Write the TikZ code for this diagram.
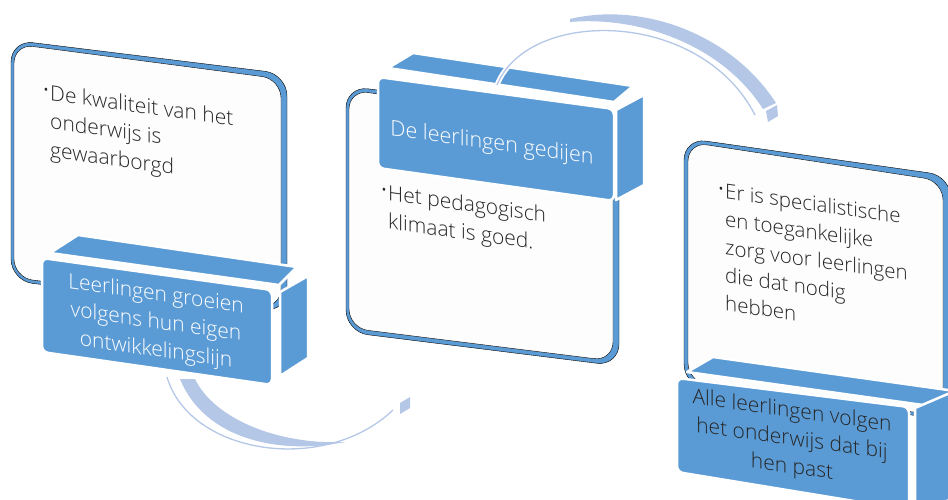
\documentclass[tikz,border=0pt]{standalone}
\usepackage{fontspec}
\setmainfont{Open Sans}[UprightFont={* Light}]
\usetikzlibrary{calc}
\definecolor{boxblue}{HTML}{5B9BD5}
\definecolor{arrowblue}{HTML}{B4C7E7}
\definecolor{cardtext}{HTML}{262626}
\definecolor{paper}{HTML}{FDFDFD}
\newcommand{\dotb}{\llap{\raisebox{0.3ex}{\fontsize{17}{17}\selectfont •}\hspace{1pt}}}
\tikzset{
  face/.style={fill=boxblue, draw=white, line width=2.5pt, line join=round},
  cardedge/.style={fill=boxblue, rounded corners=22pt},
  cardface/.style={fill=paper, rounded corners=19pt},
  cardtxt/.style={text=cardtext, font=\fontsize{21}{28.5}\selectfont, align=left, anchor=north west, yslant=-0.14, inner sep=0pt},
  boxtxt/.style={text=white, font=\fontsize{21}{28}\selectfont, align=center, yslant=-0.14, inner sep=0pt},
  band/.style={fill=arrowblue, draw=none},
  thinline/.style={draw=arrowblue, line width=1.3pt}
}
\begin{document}
\begin{tikzpicture}[x=1pt,y=-1pt]
			%%%%% START %%%%%
			\useasboundingbox (0,0) rectangle (948,499);
			
			% card 1
			\draw[cardedge] (11,40) -- (287,74) -- (287,312) -- (11,281) -- cycle;
			\draw[cardface] (14,44) -- (281,79) -- (281,308) -- (14,278) -- cycle;
			\node[cardtxt] (kwaliteit) at (50,84) {\dotb De kwaliteit van het\\onderwijs is\\gewaarborgd};
			
			% arrow 1
			\draw[thinline] (167,377) .. controls (190,455) and (325,475) .. (393,410);
			\draw[band] (180,379) .. controls (205,440) and (280,455) .. (345,442)
			            .. controls (280,445) and (215,420) .. (195,379) -- cycle;
			\draw[band] (400,403) -- (410,397) -- (410,408) -- (400,414) -- cycle;
			
			% box 1
			\draw[face] (50,253) -- (78,235) -- (297,267) -- (279,285) -- cycle;
			\draw[face] (280,292) -- (308,276) -- (308,358) -- (280,376) -- cycle;
			\draw[face, rounded corners=6pt] (42,258) -- (272,290) -- (272,385) -- (42,352) -- cycle;
			\node[boxtxt] (groeien) at (156,323) {Leerlingen groeien\\volgens hun eigen\\ontwikkelingslijn};
			
			% card 2
			\draw[cardedge] (346,86) -- (619,121) -- (619,366) -- (346,332) -- cycle;
			\draw[cardface] (349,90) -- (613,126) -- (613,361) -- (349,328) -- cycle;
			\node[cardtxt] (klimaat) at (388,184) {\dotb Het pedagogisch\\klimaat is goed.};
			
			% box 2
			\draw[face] (388,68) -- (413,53) -- (633,86) -- (614,102) -- cycle;
			\draw[face] (616,110) -- (644,95) -- (644,185) -- (616,200) -- cycle;
			\draw[face, rounded corners=6pt] (378,77) -- (614,109) -- (614,201) -- (378,168) -- cycle;
			\node[boxtxt, font=\fontsize{21.5}{28}\selectfont] (gedijen) at (492,144) {De leerlingen gedijen};
			
			% arrow 2
			\draw[white, line width=5pt] (497,85) .. controls (528,8) and (700,8) .. (755,115);
			\draw[thinline] (497,85) .. controls (528,8) and (700,8) .. (755,115);
			\draw[band] (570,19) .. controls (640,2) and (730,32) .. (776,103) -- (763,109)
			            .. controls (722,45) and (640,16) .. (570,22) -- cycle;
			\draw[band] (766,111) -- (777,105) -- (778,116) -- (768,122) -- cycle;
			
			% card 3
			\draw[cardedge] (684,138) -- (951,176) -- (951,420) -- (684,386) -- cycle;
			\draw[cardface] (688,142) -- (943,181) -- (943,416) -- (688,382) -- cycle;
			\node[cardtxt, font=\fontsize{20.5}{28}\selectfont] (zorg) at (725,183) {\dotb Er is specialistische\\en toegankelijke\\zorg voor leerlingen\\die dat nodig\\hebben};
			
			% box 3
			\draw[face] (687,372) -- (713,357) -- (962,392) -- (930,406) -- cycle;
			\draw[face] (915,408) -- (950,393) -- (950,500) -- (915,510) -- cycle;
			\draw[face, rounded corners=6pt] (677,378) -- (909,407) -- (909,510) -- (677,472) -- cycle;
			\node[boxtxt, text=cardtext] (past) at (792,440) {Alle leerlingen volgen\\het onderwijs dat bij\\hen past};
			
			%%%%% END %%%%%
\end{tikzpicture}
\end{document}
